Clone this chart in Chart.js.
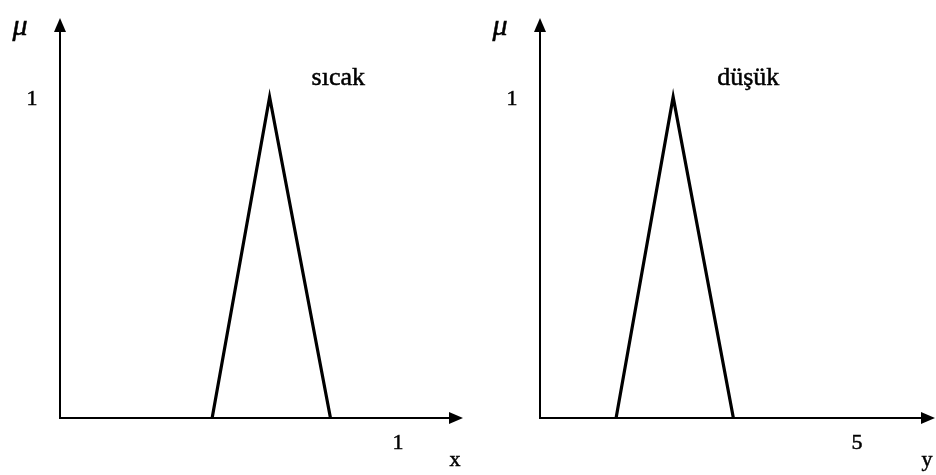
<!DOCTYPE html>
<html><head><meta charset="utf-8">
<script src="https://cdn.jsdelivr.net/npm/chart.js@4/dist/chart.umd.min.js"></script>
<style>
html,body{margin:0;padding:0;background:#fff;font-family:'Liberation Serif';}
#wrap{position:relative;width:936px;height:475px;overflow:hidden;}
.box{position:absolute;top:0;height:475px;}
</style></head><body>
<div id="wrap">
<div class="box" id="b1" style="left:0;width:470px"><canvas id="c1"></canvas></div>
<div class="box" id="b2" style="left:470px;width:466px"><canvas id="c2"></canvas></div>
</div>
<script>
// Data
const sicakX = [0.45, 0.62, 0.80];
const sicakMu = [0, 1, 0];
const dusukX = [1.2, 2.1, 3.05];
const dusukMu = [0, 1, 0];
const leftXTicks = [1];
const rightXTicks = [5];
const yTicks = [1];
const leftLabel = "sıcak";
const rightLabel = "düşük";
const leftAxisName = "x";
const rightAxisName = "y";
const muName = "μ";

const SERIF = "'Liberation Serif'";

function txt(ctx, s, x, y){
  ctx.fillText(s, x, y);
  ctx.strokeText(s, x, y);
}

function arrowPlugin(opts){
  return {
    id:'arrows',
    afterDatasetsDraw(chart){
      const ctx = chart.ctx, xs = chart.scales.x, ys = chart.scales.y;
      const x0 = xs.getPixelForValue(0), y0 = ys.getPixelForValue(0);
      const xEnd = xs.getPixelForValue(xs.max), yEnd = ys.getPixelForValue(ys.max);
      ctx.save();
      ctx.strokeStyle = '#000'; ctx.fillStyle = '#000'; ctx.lineWidth = 2;
      ctx.beginPath(); ctx.moveTo(x0, y0); ctx.lineTo(xEnd - 10, y0); ctx.stroke();
      ctx.beginPath(); ctx.moveTo(x0, y0 + 1); ctx.lineTo(x0, yEnd + 10); ctx.stroke();
      // arrowheads
      ctx.beginPath(); ctx.moveTo(xEnd, y0); ctx.lineTo(xEnd - 14, y0 - 6); ctx.lineTo(xEnd - 14, y0 + 6); ctx.closePath(); ctx.fill();
      ctx.beginPath(); ctx.moveTo(x0, yEnd); ctx.lineTo(x0 - 6, yEnd + 14); ctx.lineTo(x0 + 6, yEnd + 14); ctx.closePath(); ctx.fill();
      ctx.lineWidth = 0.5;
      // tick labels
      ctx.font = "22px " + SERIF; ctx.textAlign = 'center'; ctx.textBaseline = 'middle';
      opts.xTicks.forEach(v => txt(ctx, String(v), xs.getPixelForValue(v), y0 + 25));
      opts.yTicks.forEach(v => txt(ctx, String(v), x0 - 28, ys.getPixelForValue(v) + 2));
      // axis names
      txt(ctx, opts.xName, xEnd - 8, y0 + 42);
      ctx.font = "italic 30px " + SERIF;
      txt(ctx, muName, x0 - 40, yEnd + 9);
      // series label
      const ds = chart.data.datasets[0].data;
      const peak = ds[1];
      ctx.font = "26px " + SERIF; ctx.textAlign = 'left'; ctx.textBaseline = 'alphabetic';
      txt(ctx, opts.label, xs.getPixelForValue(peak.x) + opts.labelDx, ys.getPixelForValue(peak.y) - 12);
      ctx.restore();
    }
  };
}

function makeChart(id, xv, yv, xmax, pad, opts){
  const data = xv.map((x,i)=>({x:x, y:yv[i]}));
  return new Chart(document.getElementById(id), {
    type:'scatter',
    data:{datasets:[{data:data, showLine:true, borderColor:'#000', borderWidth:3.2, pointRadius:0, fill:false, tension:0}]},
    options:{
      responsive:true, maintainAspectRatio:false, animation:false,
      layout:{padding:pad},
      plugins:{legend:{display:false}, tooltip:{enabled:false}},
      scales:{
        x:{type:'linear', display:false, min:0, max:xmax},
        y:{type:'linear', display:false, min:0, max:1.246}
      }
    },
    plugins:[arrowPlugin(opts)]
  });
}

makeChart('c1', sicakX, sicakMu, 1.192, {left:60, right:7, top:18, bottom:57},
  {xTicks:leftXTicks, yTicks:yTicks, xName:leftAxisName, label:leftLabel, labelDx:42});
makeChart('c2', dusukX, dusukMu, 6.23, {left:70, right:1, top:18, bottom:57},
  {xTicks:rightXTicks, yTicks:yTicks, xName:rightAxisName, label:rightLabel, labelDx:44});
</script>
</body></html>
